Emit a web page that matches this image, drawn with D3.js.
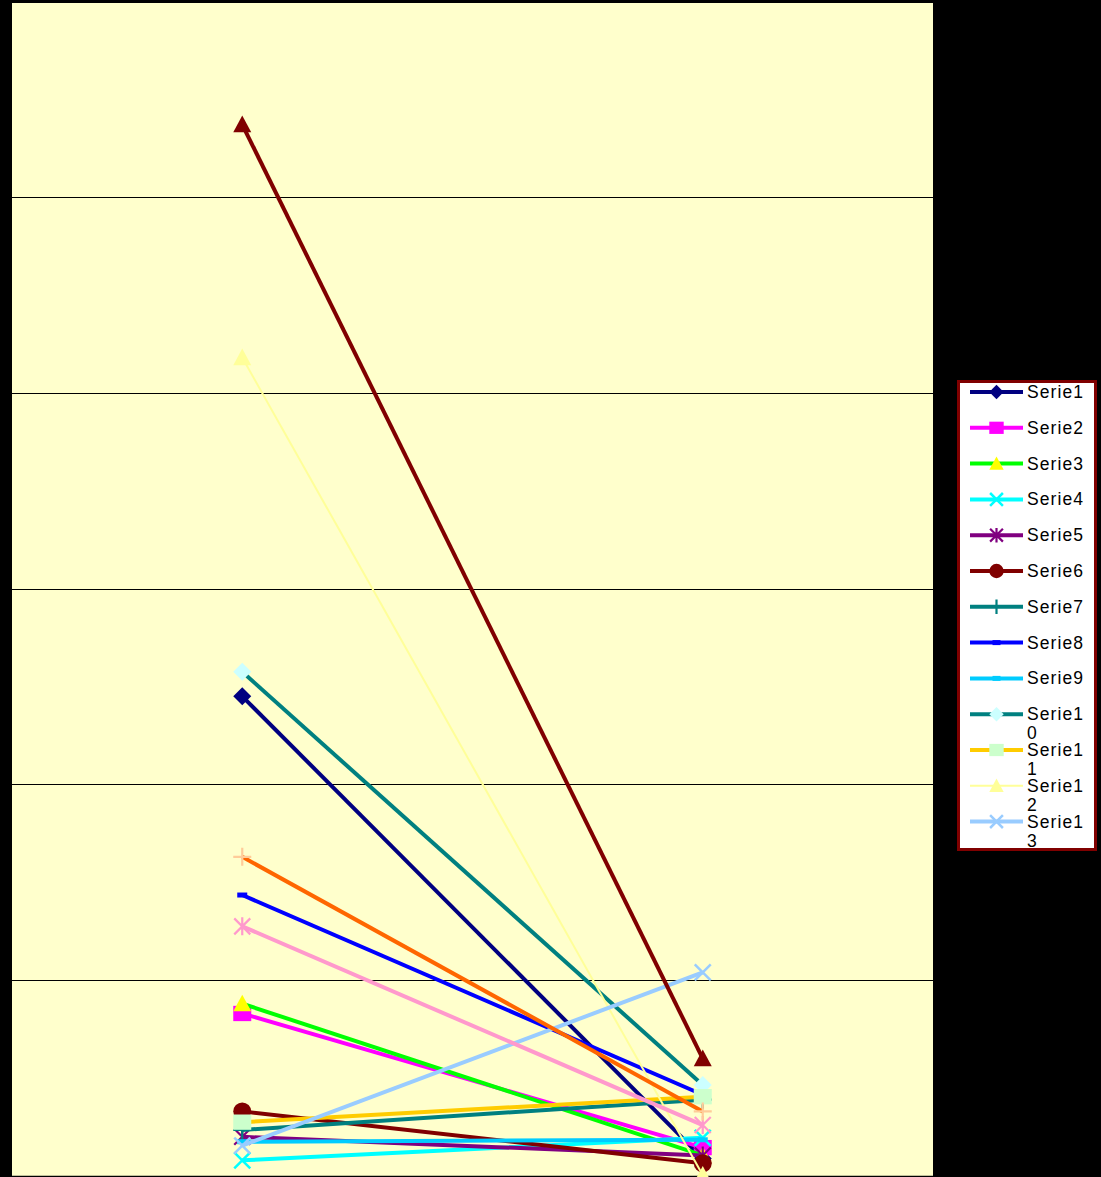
<!DOCTYPE html>
<html>
<head>
<meta charset="utf-8">
<script src="https://cdn.jsdelivr.net/npm/d3@7/dist/d3.min.js"></script>
<style>
  html, body { margin: 0; padding: 0; background: #000; }
  svg { display: block; }
</style>
</head>
<body>
<svg id="chart" width="1101" height="1177"></svg>
<script>
// Two measurement points, sixteen series
const categories = ["1", "2"];
const seriesNames = ["Serie1", "Serie2", "Serie3", "Serie4", "Serie5", "Serie6", "Serie7", "Serie8",
                     "Serie9", "Serie10", "Serie11", "Serie12", "Serie13", "Serie14", "Serie15", "Serie16"];
const valuesAt1 = [24.5, 8.3, 8.8, 0.8, 2.0, 3.3, 2.35, 14.35, 1.75, 25.75, 2.75, 41.8, 1.55, 12.75, 16.3, 53.7];
const valuesAt2 = [0.9, 1.45, 1.05, 1.95, 1.05, 0.65, 3.9, 4.15, 1.85, 4.65, 4.05, 0.05, 10.4, 2.6, 3.3, 6.0];
const yTicks = [0, 10, 20, 30, 40, 50, 60];

// Line colour, marker shape and marker colour per series
const lineColors   = ["#000080", "#FF00FF", "#00FF00", "#00FFFF", "#800080", "#800000", "#008080", "#0000FF",
                      "#00CCFF", "#008080", "#FFCC00", "#FFFF99", "#99CCFF", "#FF99CC", "#FF6600", "#800000"];
const markerColors = ["#000080", "#FF00FF", "#FFFF00", "#00FFFF", "#800080", "#800000", "#008080", "#0000FF",
                      "#00CCFF", "#CCFFFF", "#CCFFCC", "#FFFF99", "#99CCFF", "#FF99CC", "#FFCC99", "#800000"];
const markerShapes = ["diamond", "square", "triangle", "x", "star", "circle", "plus", "dash",
                      "dash", "diamond", "square", "triangle", "x", "star", "plus", "triangle"];
const legendCount = 13; // the legend box only has room for the first thirteen entries

const svg = d3.select("#chart");
const W = 1101, H = 1177;
const plot = { left: 12, right: 933, top: 1.2, bottom: 1176 };

svg.append("rect").attr("width", W).attr("height", H).attr("fill", "#000");

const x = d3.scaleBand().domain(categories).range([plot.left, plot.right]);
const y = d3.scaleLinear().domain([0, 60]).range([plot.bottom, plot.top]);
const cx = c => x(c) + x.bandwidth() / 2;

// Plot area
svg.append("rect")
  .attr("x", plot.left).attr("y", 3)
  .attr("width", plot.right - plot.left).attr("height", plot.bottom - 3)
  .attr("fill", "#FFFFCC");

// Horizontal gridlines
svg.append("g").selectAll("line")
  .data(yTicks.filter(t => t > 0 && t < 60))
  .join("line")
  .attr("x1", plot.left).attr("x2", plot.right)
  .attr("y1", d => Math.round(y(d)) + 0.5).attr("y2", d => Math.round(y(d)) + 0.5)
  .attr("stroke", "#000").attr("stroke-width", 1);

// Category axis line
svg.append("line")
  .attr("x1", plot.left).attr("x2", plot.right)
  .attr("y1", plot.bottom + 0.5).attr("y2", plot.bottom + 0.5)
  .attr("stroke", "#000").attr("stroke-width", 1.5);

// Marker drawing
function drawMarker(g, shape, color, px, py, s) {
  s = s || 1;
  const r = 9 * s;
  switch (shape) {
    case "diamond":
      g.append("path").attr("d", `M${px},${py - r}L${px + r},${py}L${px},${py + r}L${px - r},${py}Z`)
        .attr("fill", color);
      break;
    case "square":
      g.append("rect").attr("x", px - r).attr("y", py - r * 0.85).attr("width", 2 * r).attr("height", 1.7 * r)
        .attr("fill", color);
      break;
    case "triangle":
      g.append("path").attr("d", `M${px},${py - r}L${px + r},${py + r * 0.85}L${px - r},${py + r * 0.85}Z`)
        .attr("fill", color);
      break;
    case "circle":
      g.append("circle").attr("cx", px).attr("cy", py).attr("r", r).attr("fill", color);
      break;
    case "x": {
      const k = 8 * s;
      g.append("path").attr("d", `M${px - k},${py - k}L${px + k},${py + k}M${px - k},${py + k}L${px + k},${py - k}`)
        .attr("stroke", color).attr("stroke-width", 2.5).attr("fill", "none");
      break;
    }
    case "star": {
      const k = 8 * s;
      g.append("path").attr("d", `M${px - k},${py - k}L${px + k},${py + k}M${px - k},${py + k}L${px + k},${py - k}M${px},${py - r}L${px},${py + r}`)
        .attr("stroke", color).attr("stroke-width", 2.2).attr("fill", "none");
      break;
    }
    case "plus":
      g.append("path").attr("d", `M${px - r},${py}L${px + r},${py}M${px},${py - r}L${px},${py + r}`)
        .attr("stroke", color).attr("stroke-width", 2.2).attr("fill", "none");
      break;
    case "dash":
      g.append("rect").attr("x", px - 5 * s).attr("y", py - 2.5).attr("width", 10 * s).attr("height", 5)
        .attr("fill", color);
      break;
  }
}

// Series lines and markers, drawn in series order
const seriesG = svg.append("g");
seriesNames.forEach((name, i) => {
  const pts = [valuesAt1[i], valuesAt2[i]].map((v, j) => [cx(categories[j]), y(v)]);
  const g = seriesG.append("g").attr("class", "series");
  g.append("path")
    .attr("d", d3.line()(pts))
    .attr("fill", "none")
    .attr("stroke", lineColors[i])
    .attr("stroke-width", i === 11 ? 2 : 4);
  pts.forEach(p => drawMarker(g, markerShapes[i], markerColors[i], p[0], p[1]));
});

// Legend
const leg = { x: 957, y: 380, w: 140, h: 471 };
svg.append("defs").append("clipPath").attr("id", "legClip")
  .append("rect").attr("x", leg.x).attr("y", leg.y).attr("width", leg.w).attr("height", leg.h);
svg.append("rect")
  .attr("x", leg.x + 1.5).attr("y", leg.y + 1.5)
  .attr("width", leg.w - 3).attr("height", leg.h - 3)
  .attr("fill", "#fff").attr("stroke", "#800000").attr("stroke-width", 3);

const legG = svg.append("g").attr("clip-path", "url(#legClip)");
const rowH = 35.8;
seriesNames.slice(0, legendCount).forEach((name, i) => {
  const ry = 392 + i * rowH;
  legG.append("line")
    .attr("x1", 970).attr("x2", 1023).attr("y1", ry).attr("y2", ry)
    .attr("stroke", lineColors[i]).attr("stroke-width", i === 11 ? 2 : 4);
  drawMarker(legG, markerShapes[i], markerColors[i], 996.5, ry, 0.8);
  const t = legG.append("text")
    .attr("x", 1027).attr("y", ry + 6)
    .attr("font-family", "'Liberation Sans', Arial, sans-serif")
    .attr("font-size", 17.5).attr("letter-spacing", 1.1)
    .attr("fill", "#000");
  if (name.length > 6) {
    t.append("tspan").attr("x", 1027).text(name.slice(0, 6));
    t.append("tspan").attr("x", 1027).attr("dy", 19).text(name.slice(6));
  } else {
    t.text(name);
  }
});
</script>
</body>
</html>
